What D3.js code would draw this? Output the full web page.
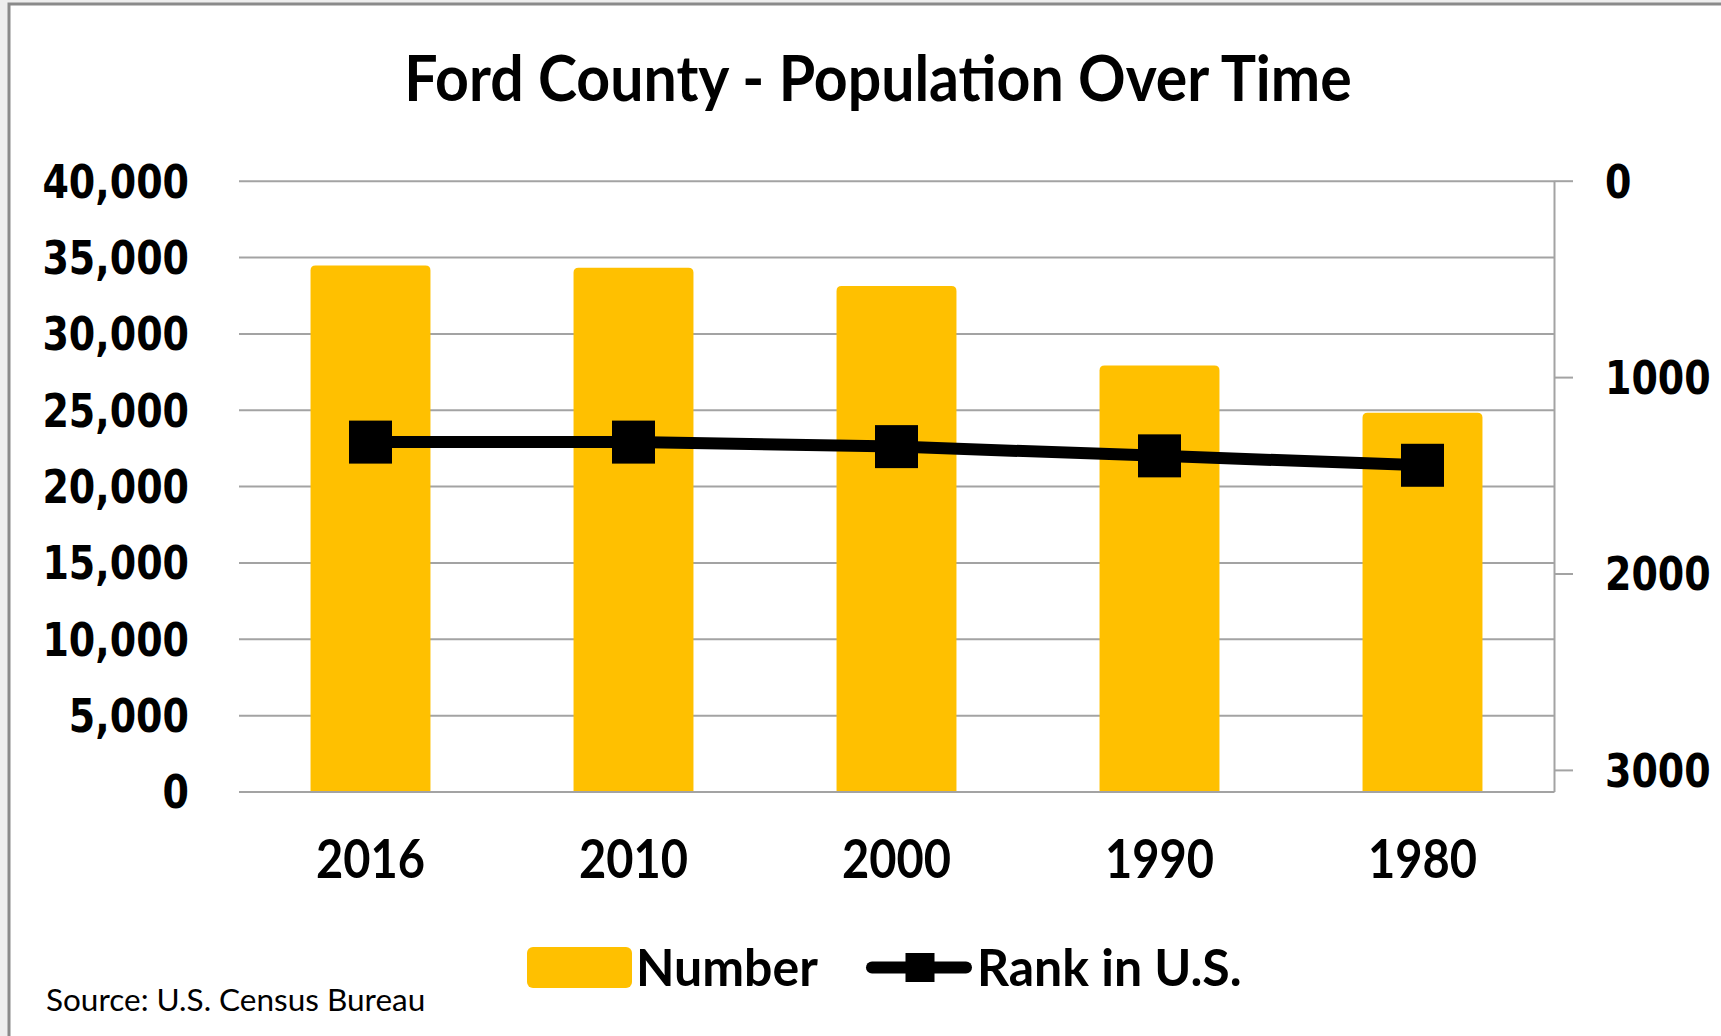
<!DOCTYPE html>
<html>
<head>
<meta charset="utf-8">
<script src="https://cdn.jsdelivr.net/npm/d3@7"></script>
<style>
  html, body { margin: 0; padding: 0; background: #eeeeee; }
  svg { display: block; }
</style>
</head>
<body>
<svg id="chart" width="1721" height="1036"></svg>
<script>
// data
const years = ["2016", "2010", "2000", "1990", "1980"];
const population = [34450, 34300, 33100, 27900, 24800];
const rank = [1331, 1331, 1354, 1401, 1449];
const popTicks = [0, 5000, 10000, 15000, 20000, 25000, 30000, 35000, 40000];
const rankTicks = [0, 1000, 2000, 3000];

const svg = d3.select("#chart");
const width = +svg.attr("width");
const height = +svg.attr("height");

const plotLeft = 239, plotRight = 1554, plotTop = 180.7, plotBottom = 791.5;
const gold = "#FFC000";
const gridColor = "#a3a3a3";

// chart area with its border
svg.append("rect")
    .attr("x", 9).attr("y", 4)
    .attr("width", width + 20).attr("height", height + 20)
    .attr("fill", "#ffffff")
    .attr("stroke", "#8a8a8a")
    .attr("stroke-width", 3);

const x = d3.scaleBand()
    .domain(years)
    .range([plotLeft, plotRight])
    .paddingInner(0.544)
    .paddingOuter(0.272);

const y = d3.scaleLinear().domain([0, 40000]).range([plotBottom, plotTop]);
const y2 = d3.scaleLinear().domain([0, 3110]).range([plotTop, plotBottom]);

// title
svg.append("text")
    .attr("transform", "translate(878,101) scale(1,1.06)")
    .attr("text-anchor", "middle")
    .style("font-family", "Lato, sans-serif")
    .style("font-weight", "bold")
    .style("font-size", "59px")
    .style("fill", "#000")
    .text("Ford County - Population Over Time");

// gridlines
const grid = svg.append("g")
    .attr("class", "grid")
    .attr("transform", `translate(${plotLeft},0)`)
    .call(d3.axisLeft(y).tickValues(popTicks).tickSize(-(plotRight - plotLeft)).tickFormat(""));
grid.select(".domain").remove();
grid.selectAll("line").attr("stroke", gridColor).attr("stroke-width", 2);

// left axis labels
const yAxis = svg.append("g")
    .attr("transform", `translate(${plotLeft},0)`)
    .call(d3.axisLeft(y).tickValues(popTicks).tickSize(0).tickPadding(50).tickFormat(d3.format(",")));
yAxis.select(".domain").remove();
yAxis.selectAll("text")
    .attr("transform", "scale(1,1.2)")
    .attr("dy", "0.36em")
    .style("font-family", "DejaVu Sans, sans-serif")
    .style("font-weight", "bold")
    .style("font-size", "38px")
    .style("fill", "#000");

// bars with rounded tops
const r = 5;
svg.append("g")
    .selectAll("path")
    .data(population)
    .join("path")
    .attr("d", (d, i) => {
        const x0 = x(years[i]), w = x.bandwidth(), y0 = y(d), yb = y(0) + 1;
        return `M${x0},${yb} V${y0 + r} Q${x0},${y0} ${x0 + r},${y0} H${x0 + w - r} Q${x0 + w},${y0} ${x0 + w},${y0 + r} V${yb} Z`;
    })
    .attr("fill", gold);

// x axis
const xAxis = svg.append("g")
    .attr("transform", `translate(0,${plotBottom})`)
    .call(d3.axisBottom(x).tickSize(0).tickSizeOuter(0));
xAxis.select(".domain").attr("stroke", gridColor).attr("stroke-width", 2);
xAxis.selectAll("text")
    .attr("y", 0)
    .attr("dy", 0)
    .attr("transform", "translate(0,86) scale(1,1.14)")
    .style("font-family", "Lato, sans-serif")
    .style("font-weight", "bold")
    .style("font-size", "47px")
    .style("fill", "#000");

// right axis (rank, reversed)
const y2Axis = svg.append("g")
    .attr("transform", `translate(${plotRight},0)`)
    .call(d3.axisRight(y2).tickValues(rankTicks).tickSize(19).tickSizeOuter(0).tickPadding(32).tickFormat(d3.format("d")));
y2Axis.select(".domain").attr("stroke", gridColor).attr("stroke-width", 2);
y2Axis.selectAll("line").attr("stroke", gridColor).attr("stroke-width", 2);
y2Axis.selectAll("text")
    .attr("transform", "scale(1,1.2)")
    .attr("dy", "0.36em")
    .style("font-family", "DejaVu Sans, sans-serif")
    .style("font-weight", "bold")
    .style("font-size", "38px")
    .style("fill", "#000");

// rank line
const cx = (d, i) => x(years[i]) + x.bandwidth() / 2;
const line = d3.line().x(cx).y(d => y2(d));
svg.append("path")
    .datum(rank)
    .attr("d", line)
    .attr("fill", "none")
    .attr("stroke", "#000")
    .attr("stroke-width", 12)
    .attr("stroke-linejoin", "round");

const m = 43;
svg.append("g")
    .selectAll("rect")
    .data(rank)
    .join("rect")
    .attr("x", (d, i) => cx(d, i) - m / 2)
    .attr("y", d => y2(d) - m / 2)
    .attr("width", m)
    .attr("height", m)
    .attr("fill", "#000");

// legend
const legend = svg.append("g");
const legendFont = sel => sel
    .style("font-family", "Lato, sans-serif")
    .style("font-weight", "bold")
    .style("font-size", "50px")
    .style("fill", "#000");

legend.append("rect")
    .attr("x", 527).attr("y", 947)
    .attr("width", 105).attr("height", 41)
    .attr("rx", 6)
    .attr("fill", gold);
legend.append("text")
    .attr("transform", "translate(636,986) scale(1,1.03)")
    .call(legendFont)
    .text("Number");

legend.append("line")
    .attr("x1", 872).attr("x2", 966)
    .attr("y1", 967.5).attr("y2", 967.5)
    .attr("stroke", "#000")
    .attr("stroke-width", 12)
    .attr("stroke-linecap", "round");
legend.append("rect")
    .attr("x", 920 - 14.5).attr("y", 967.5 - 14.5)
    .attr("width", 29).attr("height", 29)
    .attr("fill", "#000");
legend.append("text")
    .attr("transform", "translate(977,986) scale(1,1.03)")
    .call(legendFont)
    .text("Rank in U.S.");

// source note
svg.append("text")
    .attr("x", 46).attr("y", 1011)
    .style("font-family", "Lato, sans-serif")
    .style("font-size", "31.5px")
    .style("fill", "#000")
    .text("Source: U.S. Census Bureau");
</script>
</body>
</html>
